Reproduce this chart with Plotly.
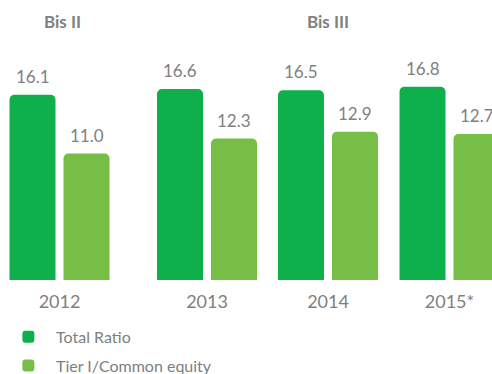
import plotly.graph_objects as go

# Capital adequacy ratios by year (%)
years = ["2012", "2013", "2014", "2015*"]
total_ratio = [16.1, 16.6, 16.5, 16.8]
tier1_common = [11.0, 12.3, 12.9, 12.7]
series_names = ["Total Ratio", "Tier I/Common equity"]
regime_labels = ["Bis II", "Bis III"]

# Layout helpers (horizontal placement of year groups on a pixel-like axis)
group_x = [59.5, 207, 328, 449.5]
regime_x = [62, 328]
bar_w = 46
offset = 27

DARK = "#0db04b"
LIGHT = "#76be45"
GREY = "#808080"
FONT = "Lato"
NBSP = "\u00a0"

fig = go.Figure()
for vals, name, col, sgn, grp in [(total_ratio, series_names[0], DARK, -1, "a"),
                                   (tier1_common, series_names[1], LIGHT, 1, "b")]:
    fig.add_trace(go.Bar(
        x=[g + sgn * offset for g in group_x], y=vals, width=bar_w,
        name=NBSP * 2 + name, legendgroup=grp,
        marker=dict(color=col, cornerradius=5, line=dict(width=0)),
        hoverinfo="skip",
    ))
    for g, v in zip(group_x, vals):
        fig.add_annotation(x=g + sgn * offset, y=v, text=f"{v:.1f}",
                           showarrow=False, yanchor="bottom", yshift=6,
                           font=dict(family=FONT, size=17, color=GREY))

for lbl, rx in zip(regime_labels, regime_x):
    fig.add_annotation(x=rx, y=1, xref="x", yref="paper", text=f"<b>{lbl}</b>",
                       showarrow=False, yanchor="middle", yshift=-21,
                       font=dict(family=FONT, size=17, color=GREY))

fig.update_layout(
    width=492, height=374,
    margin=dict(l=0, r=0, t=0, b=94, autoexpand=False),
    plot_bgcolor="white", paper_bgcolor="white",
    barmode="overlay",
    xaxis=dict(range=[0, 492], tickvals=group_x, ticktext=years,
               showgrid=False, zeroline=False, showline=False, ticks="",
               ticklabelstandoff=9,
               tickfont=dict(family=FONT, size=18, color=GREY)),
    yaxis=dict(range=[0, 280 / 11.5], visible=False),
    legend=dict(x=0.017, y=-0.1425, xanchor="left", yanchor="top",
                font=dict(family=FONT, size=16, color=GREY),
                bgcolor="rgba(0,0,0,0)", tracegroupgap=5,
                traceorder="grouped"),
    showlegend=True,
)

fig.write_html("out.html")
